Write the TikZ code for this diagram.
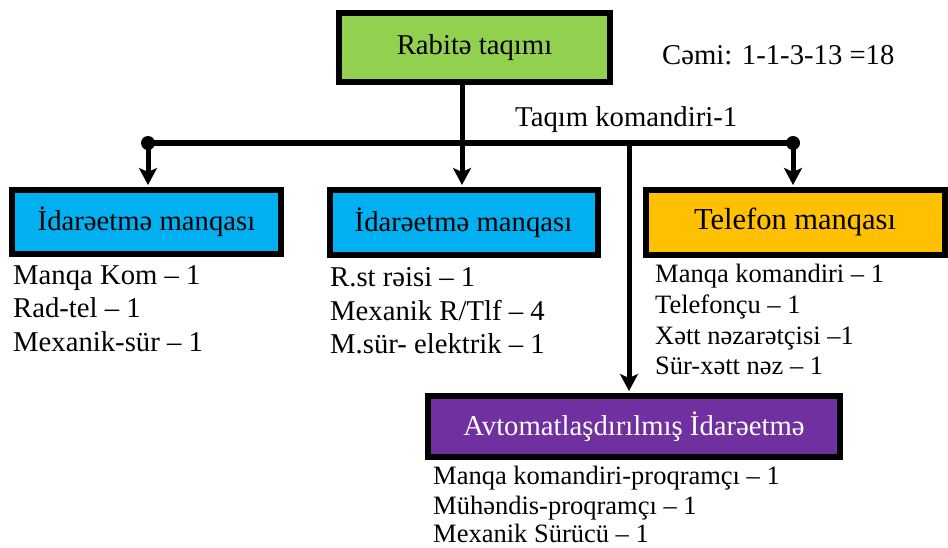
\documentclass[tikz,border=0pt]{standalone}
\usepackage{fontspec}
\setmainfont{Liberation Serif}
\usetikzlibrary{arrows.meta}
\definecolor{cgreen}{HTML}{92D050}
\definecolor{cblue}{HTML}{00B0F0}
\definecolor{cyellow}{HTML}{FFC000}
\definecolor{cpurple}{HTML}{7030A0}
\tikzset{
  unitbox/.style={draw=black, line width=6pt, inner sep=0pt, font=\fontsize{28.7}{32}\selectfont},
  bigtext/.style={anchor=base west, inner sep=0pt, font=\fontsize{28.7}{32}\selectfont},
  smalltext/.style={anchor=base west, inner sep=0pt, font=\fontsize{26.5}{30}\selectfont},
  conn/.style={line width=5pt, shorten >=2pt, -{Stealth[length=17pt,width=18pt,inset=4pt]}},
  bus/.style={line width=5.5pt},
  dot/.style={circle, fill=black, inner sep=0pt, minimum size=14pt}
}
\begin{document}
\begin{tikzpicture}[x=1pt,y=-1pt]
\useasboundingbox (0,0) rectangle (948,548);
% boxes
\node[unitbox, fill=cgreen, minimum width=271pt, minimum height=69pt] (g) at (474.5,47.5) {Rabitə taqımı};
\node[unitbox, fill=cblue, minimum width=269pt, minimum height=64pt] (l) at (146.5,222) {İdarəetmə manqası};
\node[unitbox, fill=cblue, minimum width=268pt, minimum height=65pt] (m) at (463.5,222.5) {İdarəetmə manqası};
\node[unitbox, fill=cyellow, minimum width=299pt, minimum height=65pt, font=\fontsize{30.5}{34}\selectfont] (r) at (795,222.5) {Telefon manqası};
\node[unitbox, fill=cpurple, text=white, minimum width=412pt, minimum height=61pt] (p) at (634,426.5) {Avtomatlaşdırılmış İdarəetmə};
% texts
\node[bigtext] (sum) at (662,65) {Cəmi: 1-1-3-13 =18};
\node[bigtext] (tk) at (515,127) {Taqım komandiri-1};
\node[bigtext] (l1) at (13,284) {Manqa Kom – 1};
\node[bigtext] (l2) at (13,317.5) {Rad-tel – 1};
\node[bigtext] (l3) at (13,351) {Mexanik-sür – 1};
\node[bigtext] (m1) at (330,287) {R.st rəisi – 1};
\node[bigtext] (m2) at (330,320) {Mexanik R/Tlf – 4};
\node[bigtext] (m3) at (330,353) {M.sür- elektrik – 1};
\node[smalltext] (r1) at (655,283) {Manqa komandiri – 1};
\node[smalltext] (r2) at (655,313.5) {Telefonçu – 1};
\node[smalltext] (r3) at (655,344) {Xətt nəzarətçisi –1};
\node[smalltext] (r4) at (655,374.5) {Sür-xətt nəz – 1};
\node[smalltext] (p1) at (433,484) {Manqa komandiri-proqramçı – 1};
\node[smalltext] (p2) at (433,514) {Mühəndis-proqramçı – 1};
\node[smalltext] (p3) at (433,542.5) {Mexanik Sürücü – 1};
% connectors
\coordinate (bl) at (148,143);
\coordinate (br) at (793,143);
\coordinate (bp) at (629,143);
\draw[bus] (bl) -- (br);
\node[dot] (dl) at (bl) {};
\node[dot] (dr) at (br) {};
\draw[conn] (g.south -| 462,0) -- (462,187);
\draw[conn] (dl.center) -- (dl.center |- l.north);
\draw[conn] (dr.center) -- (dr.center |- r.north);
\draw[conn] (bp) -- (bp |- p.north);
\end{tikzpicture}
\end{document}
